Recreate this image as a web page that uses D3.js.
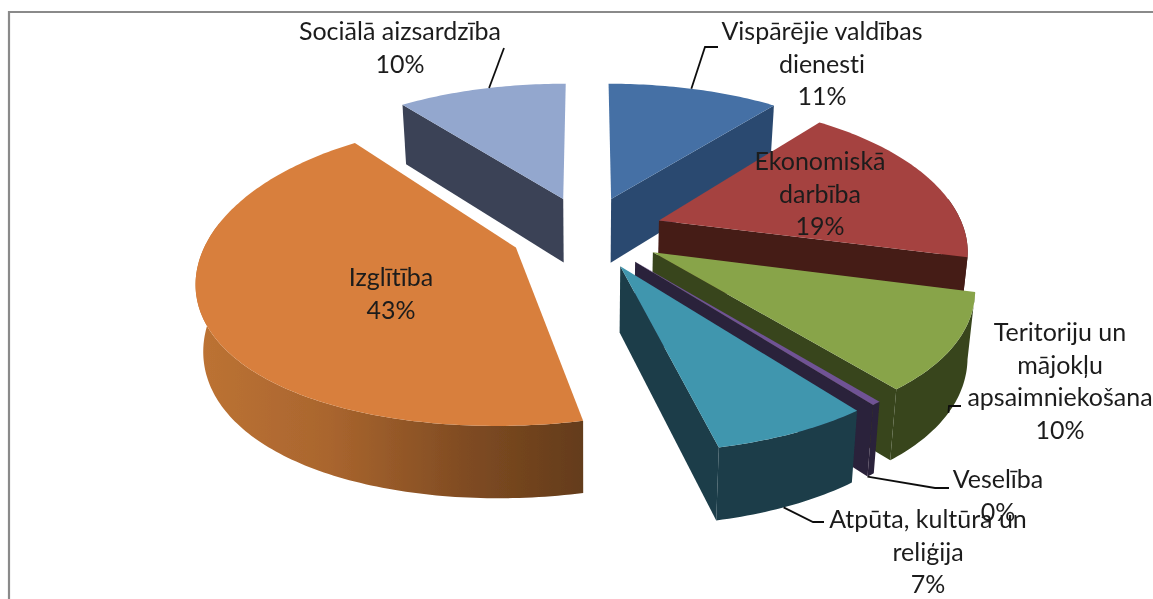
<!DOCTYPE html>
<html><head><meta charset="utf-8">
<script src="https://cdn.jsdelivr.net/npm/d3@7"></script>
<style>html,body{margin:0;padding:0;background:#fff;overflow:hidden}svg{display:block}</style>
</head><body><svg id="c" width="1153" height="599"></svg>
<script>
// data
const categories = ["Vispārējie valdības dienesti","Ekonomiskā darbība","Teritoriju un mājokļu apsaimniekošana","Veselība","Atpūta, kultūra un reliģija","Izglītība","Sociālā aizsardzība"];
const values = [10.55,18.5,10.45,0.4,6.6,43.1,10.4];
const labelLines = [["Vispārējie valdības","dienesti"],["Ekonomiskā","darbība"],["Teritoriju un","mājokļu","apsaimniekošana"],["Veselība"],["Atpūta, kultūra un","reliģija"],["Izglītība"],["Sociālā aizsardzība"]];
const topColors = ["#4470a5","#a5423f","#88a44a","#6f5395","#3f96ae","#d87f3c","#93a7ce"];
const wallColors = ["#2c4a70","#451b18","#37451c","#2c213a","#1b3d49","url(#orangeWall)","#3a4256"];

// layout (not data)
const W=1153,H=599;
const cx=587,cy=232,R=306,explode=77,tilt=0.47,depth=65,bd=0.0003,bottomShrink=1.02;
const bx1=0.000557,bx2=-3.4e-7,by=0.00053;
const labelPos=[[822,32],[820,162],[1060,333],[998,480],[928,520],[391,278],[400,32]];
const leaderEnds=[[[705,47],[718,47]],null,[[949,406],[961,406]],[[935,488],[949,488]],[[813,522],[824,522]],null,[[504,48]]];
const leaderFace=[0,null,1,1,1,null,0];
const leaderAngle=[.48,null,.5,1,.55,null,.55]; // fraction along the slice arc
const wallSide=["end","end","end","end","end",null,"start"]; // the radial wall the viewer sees
const drawOrder=[6,0,1,5,2,3,4];

const svg=d3.select("#c");
const defs=svg.append("defs");
const g=defs.append("linearGradient").attr("id","orangeWall").attr("x1",0).attr("x2",1).attr("y1",0).attr("y2",0);
[[0,"#bd7334"],[.35,"#a9652e"],[.7,"#7f4b22"],[1,"#643c1a"]].forEach(s=>g.append("stop").attr("offset",s[0]).attr("stop-color",s[1]));
defs.append("filter").attr("id","soft").attr("x",0).attr("y",0).attr("width",1).attr("height",1)
  .append("feGaussianBlur").attr("stdDeviation",0.45);

const root=svg.append("g").attr("filter","url(#soft)");
root.append("rect").attr("width",W).attr("height",H).attr("fill","#fff");
root.append("path").attr("d",`M9,${H}V12H${W}`).attr("fill","none").attr("stroke","#8a8a8a").attr("stroke-width",2.2);

const arcs=d3.pie().sort(null).startAngle(0).endAngle(2*Math.PI)(values);

function project(a,m,r,bottom){
  const X=explode*Math.sin(m)+r*Math.sin(a), Y=explode*Math.cos(m)+r*Math.cos(a);
  const qx=(1+bx1*Y+bx2*Y*Y)*(bottom?bottomShrink:1), qy=1+by*Y;
  const top=cy-tilt*Y/qy;
  return [cx+X/qx, bottom?top+depth/(1+bd*Y):top];
}
const line=d3.line();
const steps=d=>d3.range(0,1.0001,1/Math.max(2,Math.ceil((d.endAngle-d.startAngle)*60))).map(t=>d.startAngle+t*(d.endAngle-d.startAngle));

const slices=root.selectAll("g.slice").data(drawOrder.map(i=>({i,d:arcs[i]}))).join("g").attr("class","slice");
slices.each(function({i,d}){
  const s=d3.select(this), m=(d.startAngle+d.endAngle)/2, wall=wallColors[i];
  const A=project(0,m,0,false),B=project(0,m,0,true);
  if(wallSide[i]){
    const a=wallSide[i]==="end"?d.endAngle:d.startAngle;
    const P=project(a,m,R,false),Q=project(a,m,R,true);
    s.append("path").attr("d",line([A,P,Q,B])+"Z").attr("fill",wall);
  }
  const angles=steps(d), front=angles.filter(a=>Math.cos(a)<0.17);
  if(front.length>1){
    const T=front.map(a=>project(a,m,R,false)),Bt=front.map(a=>project(a,m,R,true)).reverse();
    s.append("path").attr("d",line(T.concat(Bt))+"Z").attr("fill",wall);
  }
  s.append("path").attr("d",line([A].concat(angles.map(a=>project(a,m,R,false))))+"Z").attr("fill",topColors[i]);
});

// leaders
arcs.forEach((d,i)=>{
  if(!leaderEnds[i])return;
  const m=(d.startAngle+d.endAngle)/2;
  const a=d.startAngle+leaderAngle[i]*(d.endAngle-d.startAngle);
  root.append("path").attr("d",line([project(a,m,R,!!leaderFace[i])].concat(leaderEnds[i])))
    .attr("fill","none").attr("stroke","#111").attr("stroke-width",1.8);
});

// labels
const lh=32.6;
arcs.forEach((d,i)=>{
  const t=root.append("text").attr("text-anchor","middle").attr("fill","#1c1c1c")
    .style("font-family","Lato, Carlito, sans-serif").style("font-size","25px").style("font-variant-ligatures","none");
  const lines=labelLines[i].concat(d3.format(".0%")(d.data/100));
  lines.forEach((l,k)=>t.append("tspan").attr("x",labelPos[i][0]).attr("y",labelPos[i][1]+k*lh+8).text(l));
});
</script></body></html>
